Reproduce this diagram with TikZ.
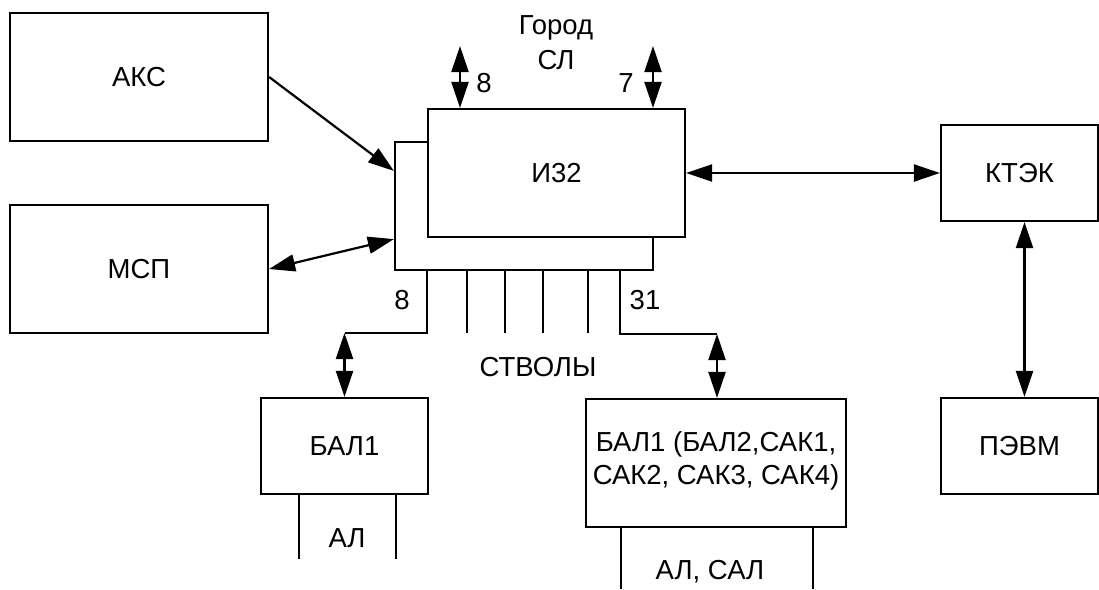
\documentclass[tikz,border=0pt]{standalone}
\usepackage{fontspec}
\setmainfont{Liberation Sans}
\usetikzlibrary{arrows.meta}
\begin{document}
\begin{tikzpicture}[x=1pt,y=-1pt,
  box/.style={draw, line width=2.2pt, fill=white, inner sep=0pt, align=center},
  ln/.style={line width=2.2pt},
  arr/.style={line width=2.2pt, -{Triangle[length=26pt,width=17pt]}},
  darr/.style={line width=2.2pt, {Triangle[length=26pt,width=17pt]}-{Triangle[length=26pt,width=17pt]}},
  lbl/.style={inner sep=0pt},
  font=\fontsize{27.5}{33}\selectfont]
\useasboundingbox (0,0) rectangle (1099,589);
% boxes
\node[box, minimum width=258pt, minimum height=128pt] (aks) at (139,77) {АКС};
\node[box, minimum width=258pt, minimum height=128pt] (msp) at (139,269) {МСП};
\node[box, minimum width=258pt, minimum height=128pt] (back) at (524,206) {};
\node[box, minimum width=257pt, minimum height=128pt] (front) at (556.5,173) {И32};
\node[box, minimum width=157pt, minimum height=96pt] (ktek) at (1019.5,173) {КТЭК};
\node[box, minimum width=157pt, minimum height=96pt] (pevm) at (1019.5,446) {ПЭВМ};
\node[box, minimum width=167pt, minimum height=96pt] (bal1) at (344.5,446) {БАЛ1};
\node[box, minimum width=260pt, minimum height=128pt, text depth=10pt] (bal2) at (716,463) {БАЛ1 (БАЛ2,САК1,\\САК2, САК3, САК4)};
% labels
\node[lbl] (gorod) at (556,28) {Город};
\node[lbl] (sl) at (556,60) {СЛ};
\node[lbl] (n8t) at (484,83) {8};
\node[lbl] (n7t) at (626,83) {7};
\node[lbl] (n8b) at (402,300) {8};
\node[lbl] (n31) at (645,300) {31};
\node[lbl] (stv) at (538,367) {СТВОЛЫ};
\node[lbl] (al1) at (347,538) {АЛ};
\node[lbl] (al2) at (710,572) {АЛ, САЛ};
% coordinates
\coordinate (t1) at (460,46);
\coordinate (t2) at (653,46);
\coordinate (jl) at (427,333);
\coordinate (jlx) at (344.5,333);
\coordinate (jr) at (620,334);
\coordinate (jrx) at (717,334);
\coordinate (bl1) at (299,559);
\coordinate (bl2) at (396,559);
\coordinate (br1) at (621,589);
\coordinate (br2) at (813,589);
% connectors
\draw[arr] (aks.east) -- ([yshift=-30pt]back.north west);
\draw[darr] (msp.east) -- ([yshift=32pt]back.south west);
\draw[darr] (front.east) -- (ktek.west);
\draw[darr] ([xshift=5pt]ktek.south) -- ([xshift=5pt]pevm.north);
\draw[darr] (t1) -- (t1 |- front.north);
\draw[darr] (t2) -- (t2 |- front.north);
% trunks
\draw[ln] (jl |- back.south) -- (jl) -- (jlx);
\draw[darr] (jlx) -- (bal1.north);
\draw[ln] (jr |- back.south) -- (jr) -- (jrx);
\draw[darr] (jrx) -- (jrx |- bal2.north);
\foreach \x in {467,505,543,588}{
  \draw[ln] (\x,270) -- (\x,333);
}
% lines below
\draw[ln] (bl1 |- bal1.south) -- (bl1);
\draw[ln] (bl2 |- bal1.south) -- (bl2);
\draw[ln] (br1 |- bal2.south) -- (br1);
\draw[ln] (br2 |- bal2.south) -- (br2);
\end{tikzpicture}
\end{document}
